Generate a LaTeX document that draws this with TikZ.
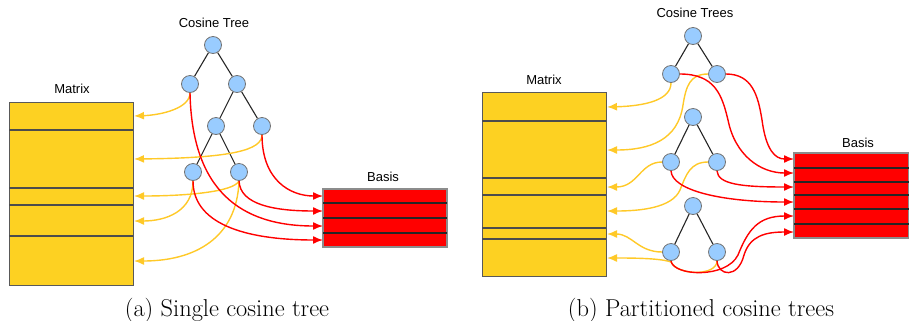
\documentclass[tikz,border=0pt]{standalone}
\usepackage{fontspec}
\newfontfamily\labelfont{Liberation Sans}
\usetikzlibrary{arrows.meta}
\pgfdeclarelayer{background}
\pgfsetlayers{background,main}
\definecolor{matyellow}{HTML}{FDD122}
\definecolor{arryellow}{HTML}{FFC928}
\definecolor{basred}{HTML}{FF0000}
\definecolor{nodeblue}{HTML}{99CCFF}
\begin{document}
\begin{tikzpicture}[x=1bp,y=-1bp,
  tnode/.style={circle,draw=black!55,fill=nodeblue,line width=0.8bp,minimum size=17bp,inner sep=0pt},
  edge/.style={draw=black!85,line width=1.1bp},
  yarr/.style={draw=arryellow,line width=1.4bp,-{Latex[length=10bp,width=8bp]}},
  rarr/.style={draw=basred,line width=1.4bp,-{Latex[length=10bp,width=8bp]}},
  lbl/.style={font=\labelfont\fontsize{13bp}{15bp}\selectfont,inner sep=0pt},
  subcap/.style={font=\fontsize{24.4bp}{29bp}\selectfont,inner sep=0pt,anchor=base},
  matbox/.style={fill=matyellow,draw=black!65,line width=1bp},
  basbox/.style={fill=basred,draw=black!45,line width=1.2bp},
  row/.style={draw=black!70,line width=1.1bp},
  basrow/.style={draw=black!85,line width=1.3bp}]
\useasboundingbox (0,0) rectangle (909,320);

% ---------- (a) single cosine tree ----------
\draw[matbox] (9,102) rectangle (133,285);
\foreach \y in {130,188,205,236} \draw[row] (9,\y) -- (133,\y);
\draw[basbox] (323,189) rectangle (447,247);
\foreach \y in {203,218,233} \draw[basrow] (323,\y) -- (447,\y);

\node[lbl] (tA) at (214,23) {Cosine Tree};
\node[lbl] (mA) at (72,89) {Matrix};
\node[lbl] (bA) at (383,177) {Basis};

\node[tnode] (r) at (213,45) {};
\node[tnode] (a) at (190,84) {};
\node[tnode] (b) at (237,84) {};
\node[tnode] (c) at (216,126) {};
\node[tnode] (d) at (262,126) {};
\node[tnode] (e) at (193,172) {};
\node[tnode] (f) at (239,172) {};

\coordinate (mL1) at (134,116);
\coordinate (mL2) at (134,159);
\coordinate (mL3) at (134,196);
\coordinate (mL4) at (134,221);
\coordinate (mL5) at (134,261);
\coordinate (bL1) at (323,196);
\coordinate (bL2) at (323,211);
\coordinate (bL3) at (323,226);
\coordinate (bL4) at (323,240);

\begin{pgfonlayer}{background}
\draw[edge] (r) -- (a);
\draw[edge] (r) -- (b);
\draw[edge] (b) -- (c);
\draw[edge] (b) -- (d);
\draw[edge] (c) -- (e);
\draw[edge] (c) -- (f);

\draw[yarr] (a.south) .. controls (190,108) and (162,115) .. (mL1);
\draw[yarr] (d.south) .. controls (262,150) and (232,158) .. (mL2);
\draw[yarr] (f.south) .. controls (234,192) and (185,196) .. (mL3);
\draw[yarr] (e.south) .. controls (193,212) and (165,221) .. (mL4);
\draw[yarr] (f.south) .. controls (237,238) and (195,261) .. (mL5);

\draw[rarr] (d.south) .. controls (262,180) and (290,196) .. (bL1);
\draw[rarr] (f.south) .. controls (240,205) and (275,211) .. (bL2);
\draw[rarr] (a.south) .. controls (192,190) and (240,226) .. (bL3);
\draw[rarr] (e.south) .. controls (193,228) and (255,240) .. (bL4);
\end{pgfonlayer}

\node[subcap] (capA) at (227,316) {(a) Single cosine tree};

% ---------- (b) partitioned cosine trees ----------
\draw[matbox] (482,92) rectangle (606,276);
\foreach \y in {121,178,195,228,239} \draw[row] (482,\y) -- (606,\y);
\draw[basbox] (794,153) rectangle (908.5,238);
\foreach \y in {168,182,195,209,224} \draw[basrow] (794,\y) -- (909,\y);

\node[lbl] (tB) at (695,13) {Cosine Trees};
\node[lbl] (mB) at (544,80) {Matrix};
\node[lbl] (bB) at (858,143) {Basis};

\node[tnode] (R1) at (693,36) {};
\node[tnode] (R1a) at (671,74) {};
\node[tnode] (R1b) at (717,74) {};
\node[tnode] (R2) at (693,117) {};
\node[tnode] (R2a) at (671,162) {};
\node[tnode] (R2b) at (717,162) {};
\node[tnode] (R3) at (693,206) {};
\node[tnode] (R3a) at (671,252) {};
\node[tnode] (R3b) at (717,252) {};

\coordinate (mR1) at (607,107);
\coordinate (mR2) at (607,150);
\coordinate (mR3) at (607,187);
\coordinate (mR4) at (607,211);
\coordinate (mR5) at (607,234);
\coordinate (mR6) at (607,258);
\coordinate (bR1) at (794,159);
\coordinate (bR2) at (794,173);
\coordinate (bR3) at (794,187);
\coordinate (bR4) at (794,202);
\coordinate (bR5) at (794,216);
\coordinate (bR6) at (794,232);

\begin{pgfonlayer}{background}
\foreach \t in {R1,R2,R3} {
  \draw[edge] (\t) -- (\t a);
  \draw[edge] (\t) -- (\t b);
}

\draw[yarr] (R1a.south) .. controls (671,100) and (645,106) .. (mR1);
\draw[yarr] (R1b.west) .. controls (690,74) and (686,86) .. (683,105)
            .. controls (678,140) and (650,150) .. (mR2);
\draw[yarr] (R2a.west) .. controls (640,162) and (638,187) .. (mR3);
\draw[yarr] (R2b.west) .. controls (690,162) and (686,175) .. (680,190)
            .. controls (672,208) and (640,211) .. (mR4);
\draw[yarr] (R3a.west) .. controls (638,252) and (632,234) .. (mR5);
\draw[yarr] (R3b.south) .. controls (717,276) and (678,276) .. (671,262)
            .. controls (660,258) and (630,258) .. (mR6);

\draw[rarr] (R1a.east) .. controls (715,74) and (722,95) .. (728,120)
            .. controls (735,155) and (760,173) .. (bR2);
\draw[rarr] (R1b.east) .. controls (752,74) and (758,95) .. (762,120)
            .. controls (766,150) and (775,159) .. (bR1);
\draw[rarr] (R2b.south) .. controls (718,184) and (740,187) .. (bR3);
\draw[rarr] (R2a.south) .. controls (672,190) and (720,202) .. (bR4);
\draw[rarr] (R3a.south) .. controls (673,276) and (726,279) .. (738,255)
            .. controls (748,230) and (758,216) .. (bR5);
\draw[rarr] (R3b.south) .. controls (718,276) and (738,279) .. (744,255)
            .. controls (750,236) and (765,232) .. (bR6);
\end{pgfonlayer}

\node[subcap] (capB) at (701,316) {(b) Partitioned cosine trees};
\end{tikzpicture}
\end{document}
